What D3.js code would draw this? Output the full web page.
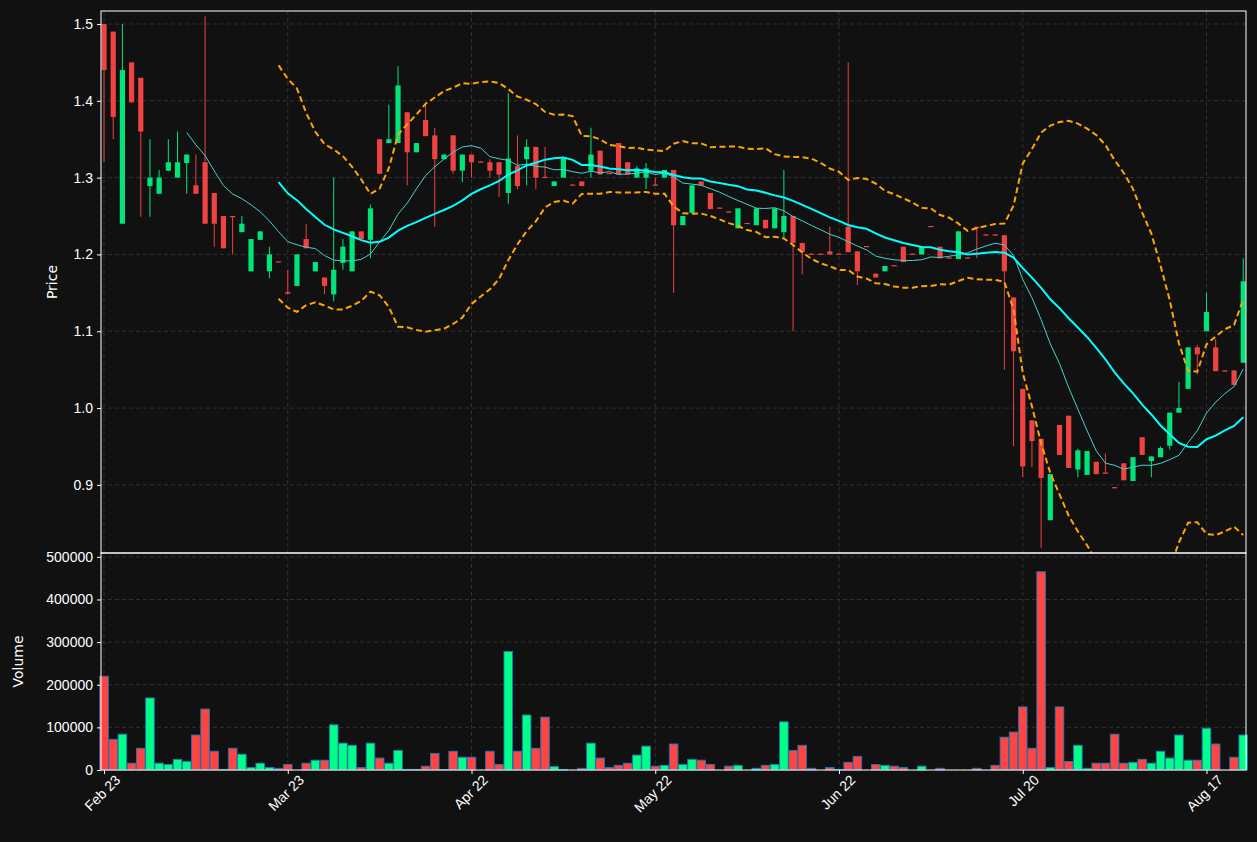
<!DOCTYPE html>
<html>
<head>
<meta charset="utf-8">
<script src="https://cdn.jsdelivr.net/npm/d3@7"></script>
<style>
  body { margin: 0; background: #111111; }
  svg { font-family: "DejaVu Sans", sans-serif; }
</style>
</head>
<body>
<svg id="chart"></svg>
<script>
// OHLC per trading bar (bar index 0 = Feb 23)
const opens = [1.50,1.49,1.24,1.45,1.43,1.289,1.279,1.309,1.30,1.319,
  1.29,1.32,1.28,1.25,1.25,1.229,1.178,1.219,1.178,1.191,
  1.151,1.159,1.22,1.178,1.17,1.148,1.189,1.178,1.23,1.219,
  1.35,1.345,1.345,1.385,1.333,1.375,1.355,1.324,1.355,1.309,
  1.33,1.321,1.32,1.32,1.28,1.315,1.324,1.34,1.301,1.289,
  1.30,1.291,1.295,1.309,1.335,1.306,1.345,1.32,1.30,1.30,
  1.291,1.30,1.31,1.238,1.254,1.295,1.28,1.261,1.256,1.234,
  1.241,1.238,1.245,1.234,1.229,1.25,1.215,1.201,1.201,1.204,
  1.201,1.236,1.204,1.211,1.175,1.178,1.186,1.21,1.201,1.20,
  1.237,1.21,1.196,1.194,1.196,1.236,1.226,1.226,1.225,1.144,
  1.025,0.984,0.96,0.854,0.978,0.99,0.92,0.913,0.93,0.916,
  0.897,0.928,0.905,0.962,0.931,0.936,0.951,0.994,1.025,1.079,
  1.10,1.079,1.049,1.049,1.059]
const highs = [1.50,1.49,1.50,1.45,1.43,1.35,1.31,1.35,1.36,1.33,
  1.33,1.51,1.28,1.25,1.25,1.25,1.22,1.23,1.21,1.191,
  1.18,1.20,1.24,1.19,1.17,1.30,1.22,1.23,1.23,1.265,
  1.35,1.395,1.445,1.385,1.345,1.395,1.365,1.33,1.355,1.33,
  1.33,1.321,1.324,1.32,1.41,1.355,1.35,1.34,1.34,1.295,
  1.325,1.291,1.295,1.365,1.335,1.306,1.345,1.32,1.315,1.319,
  1.30,1.31,1.31,1.25,1.29,1.295,1.28,1.261,1.256,1.26,
  1.241,1.26,1.245,1.26,1.31,1.25,1.215,1.201,1.201,1.236,
  1.201,1.45,1.204,1.211,1.175,1.185,1.186,1.21,1.201,1.21,
  1.237,1.21,1.196,1.23,1.196,1.236,1.226,1.226,1.225,1.144,
  1.025,0.984,0.96,0.914,0.978,0.99,0.947,0.944,0.93,0.941,
  0.897,0.928,0.936,0.962,0.937,0.95,0.994,1.034,1.079,1.082,
  1.15,1.09,1.049,1.049,1.195]
const lows = [1.32,1.35,1.24,1.398,1.249,1.249,1.279,1.309,1.30,1.279,
  1.279,1.24,1.21,1.208,1.20,1.229,1.178,1.219,1.169,1.19,
  1.148,1.159,1.208,1.178,1.148,1.139,1.18,1.178,1.22,1.195,
  1.305,1.345,1.345,1.29,1.333,1.354,1.236,1.324,1.305,1.294,
  1.30,1.32,1.30,1.275,1.266,1.285,1.29,1.285,1.30,1.289,
  1.30,1.29,1.289,1.30,1.304,1.305,1.304,1.304,1.30,1.285,
  1.29,1.30,1.15,1.238,1.254,1.29,1.259,1.26,1.255,1.234,
  1.24,1.238,1.234,1.234,1.221,1.10,1.174,1.20,1.20,1.20,
  1.20,1.203,1.16,1.21,1.17,1.178,1.185,1.19,1.20,1.20,
  1.236,1.195,1.195,1.194,1.195,1.195,1.225,1.225,1.05,0.95,
  0.91,0.923,0.818,0.854,0.939,0.922,0.91,0.913,0.914,0.915,
  0.896,0.906,0.905,0.939,0.91,0.936,0.946,0.994,1.025,1.044,
  1.10,1.048,1.048,1.03,1.059]
const closes = [1.44,1.379,1.44,1.398,1.36,1.30,1.30,1.32,1.32,1.33,
  1.279,1.24,1.24,1.208,1.249,1.24,1.22,1.23,1.20,1.19,
  1.149,1.20,1.208,1.19,1.159,1.18,1.21,1.23,1.22,1.26,
  1.305,1.35,1.42,1.333,1.345,1.354,1.324,1.33,1.309,1.33,
  1.32,1.32,1.309,1.304,1.325,1.289,1.34,1.30,1.30,1.295,
  1.325,1.29,1.289,1.33,1.304,1.305,1.304,1.304,1.312,1.312,
  1.29,1.31,1.238,1.25,1.29,1.29,1.259,1.26,1.255,1.26,
  1.24,1.26,1.234,1.26,1.25,1.215,1.203,1.20,1.20,1.20,
  1.20,1.203,1.178,1.21,1.17,1.185,1.185,1.19,1.20,1.21,
  1.236,1.195,1.195,1.23,1.195,1.234,1.225,1.225,1.178,1.074,
  0.924,0.957,0.909,0.914,0.939,0.922,0.945,0.944,0.914,0.915,
  0.896,0.906,0.936,0.939,0.937,0.948,0.994,1.0,1.079,1.07,
  1.125,1.048,1.048,1.03,1.165]
const volumes = [220000,72000,84000,16000,51000,169000,16000,13000,25000,20000,
  82000,143000,44000,1500,51000,37000,6000,16000,6000,4000,
  13000,0,16000,23000,23000,106000,63000,58000,6000,63000,
  28000,16000,46000,1500,1500,9000,39000,1000,44000,30000,
  30000,0,44000,13000,278000,44000,129000,51000,124000,8000,
  1500,0,4000,63000,28000,6000,11000,16000,35000,56000,
  9000,11000,61000,13000,25000,23000,13000,0,9000,11000,
  0,4000,11000,13000,113000,46000,58000,4000,0,6000,
  1000,18000,32000,0,13000,11000,9000,6000,0,9000,
  0,4000,0,0,0,4000,0,11000,77000,89000,
  148000,51000,465000,6000,148000,20000,58000,4000,16000,16000,
  84000,16000,18000,25000,16000,44000,28000,82000,23000,23000,
  98000,61000,0,30000,82000]
const tickBars = [0, 20, 40, 60, 80, 100, 120]
const tickLabels = ["Feb 23", "Mar 23", "Apr 22", "May 22", "Jun 22", "Jul 20", "Aug 17"]
const priceTicks = [0.9, 1.0, 1.1, 1.2, 1.3, 1.4, 1.5]
const volumeTicks = [0, 100000, 200000, 300000, 400000, 500000]

const width = 1257
const height = 842
const left = 101, right = 1246
const priceTop = 11, priceBottom = 553, volBottom = 770

const bars = closes.map((c, i) => ({
  i, o: opens[i], h: highs[i], l: lows[i], c, v: volumes[i], up: c >= opens[i]
}))

// rolling mean / std of closes
function rolling(n, i) {
  if (i < n - 1) return null
  const w = closes.slice(i - n + 1, i + 1)
  const m = d3.mean(w)
  const s = Math.sqrt(d3.mean(w, d => (d - m) ** 2))
  return { m, s }
}
const sma10 = bars.map(b => { const r = rolling(10, b.i); return r && { i: b.i, y: r.m } }).filter(d => d)
const bb = bars.map(b => { const r = rolling(20, b.i); return r && { i: b.i, m: r.m, up: r.m + 2 * r.s, lo: r.m - 2 * r.s } }).filter(d => d)

const x = d3.scaleLinear().domain([-0.33, 124.3]).range([left, right])
const y = d3.scaleLinear().domain([0.8113, 1.5169]).range([priceBottom, priceTop])
const yv = d3.scaleLinear().domain([0, 509000]).range([volBottom, priceBottom])

const svg = d3.select("#chart").attr("width", width).attr("height", height)
svg.append("rect").attr("width", width).attr("height", height).attr("fill", "#111111")

svg.append("defs").append("clipPath").attr("id", "pclip")
  .append("rect").attr("x", left).attr("y", priceTop).attr("width", right - left).attr("height", priceBottom - priceTop)

// grids
const grid = svg.append("g").attr("stroke", "#3a3a3a").attr("stroke-dasharray", "4,3").attr("stroke-width", 0.8)
tickBars.forEach(t => grid.append("line").attr("x1", x(t)).attr("x2", x(t)).attr("y1", priceTop).attr("y2", volBottom))
priceTicks.forEach(t => grid.append("line").attr("x1", left).attr("x2", right).attr("y1", y(t)).attr("y2", y(t)))
volumeTicks.forEach(t => grid.append("line").attr("x1", left).attr("x2", right).attr("y1", yv(t)).attr("y2", yv(t)))

const plot = svg.append("g").attr("clip-path", "url(#pclip)")
const red = "#ef4343", green = "#00e57a"

// wicks and bodies
plot.selectAll(".wick").data(bars).join("line")
  .attr("x1", d => x(d.i)).attr("x2", d => x(d.i))
  .attr("y1", d => y(d.h)).attr("y2", d => y(d.l))
  .attr("stroke", d => d.up ? green : red).attr("stroke-width", 1)
plot.selectAll(".body").data(bars).join("rect")
  .attr("x", d => x(d.i) - 2.6).attr("width", 5.2)
  .attr("y", d => y(Math.max(d.o, d.c)))
  .attr("height", d => Math.max(1.2, Math.abs(y(d.o) - y(d.c))))
  .attr("fill", d => d.up ? green : red)

// moving averages and bands
const line = (fx, fy) => d3.line().x(d => x(fx(d))).y(d => y(fy(d)))
plot.append("path").datum(sma10).attr("fill", "none").attr("stroke", "#48d1cc").attr("stroke-width", 1)
  .attr("d", line(d => d.i, d => d.y))
plot.append("path").datum(bb).attr("fill", "none").attr("stroke", "#00ffff").attr("stroke-width", 2)
  .attr("d", line(d => d.i, d => d.m))
;["up", "lo"].forEach(k => plot.append("path").datum(bb).attr("fill", "none")
  .attr("stroke", "#ffa500").attr("stroke-width", 2).attr("stroke-dasharray", "6,3.5")
  .attr("d", line(d => d.i, d => d[k])))

// volume bars
svg.append("g").selectAll("rect").data(bars.filter(d => d.v > 0)).join("rect")
  .attr("x", d => x(d.i) - 4.3).attr("width", 8.6)
  .attr("y", d => yv(d.v)).attr("height", d => volBottom - yv(d.v))
  .attr("fill", d => d.up ? "#00ff88" : "#ff4444")
  .attr("stroke", "#1f77b4").attr("stroke-width", 0.9)

// frames
svg.append("rect").attr("x", left).attr("y", priceTop).attr("width", right - left).attr("height", priceBottom - priceTop)
  .attr("fill", "none").attr("stroke", "#ffffff").attr("stroke-width", 1)
svg.append("rect").attr("x", left).attr("y", priceBottom).attr("width", right - left).attr("height", volBottom - priceBottom)
  .attr("fill", "none").attr("stroke", "#ffffff").attr("stroke-width", 1)

// axes
const styleAxis = g => {
  g.select(".domain").remove()
  g.selectAll("line").attr("stroke", "#ffffff")
  g.selectAll("text").attr("fill", "#ffffff").attr("font-size", 14)
}
svg.append("g").attr("transform", `translate(${left},0)`)
  .call(d3.axisLeft(y).tickValues(priceTicks).tickFormat(d3.format(".1f")).tickSize(4).tickPadding(4)).call(styleAxis)
svg.append("g").attr("transform", `translate(${left},0)`)
  .call(d3.axisLeft(yv).tickValues(volumeTicks).tickFormat(d3.format("d")).tickSize(4).tickPadding(4)).call(styleAxis)
const xa = svg.append("g").attr("transform", `translate(0,${volBottom})`)
  .call(d3.axisBottom(x).tickValues(tickBars).tickFormat((d, i) => tickLabels[i]).tickSize(4)).call(styleAxis)
xa.selectAll("text").attr("text-anchor", "end").attr("dx", "0.3em").attr("dy", "0.9em")
  .attr("transform", "rotate(-45)")

svg.append("text").attr("transform", `translate(57,${(priceTop + priceBottom) / 2}) rotate(-90)`)
  .attr("text-anchor", "middle").attr("fill", "#ffffff").attr("font-size", 14).text("Price")
svg.append("text").attr("transform", `translate(23,${(priceBottom + volBottom) / 2}) rotate(-90)`)
  .attr("text-anchor", "middle").attr("fill", "#ffffff").attr("font-size", 14).text("Volume")
</script>
</body>
</html>
